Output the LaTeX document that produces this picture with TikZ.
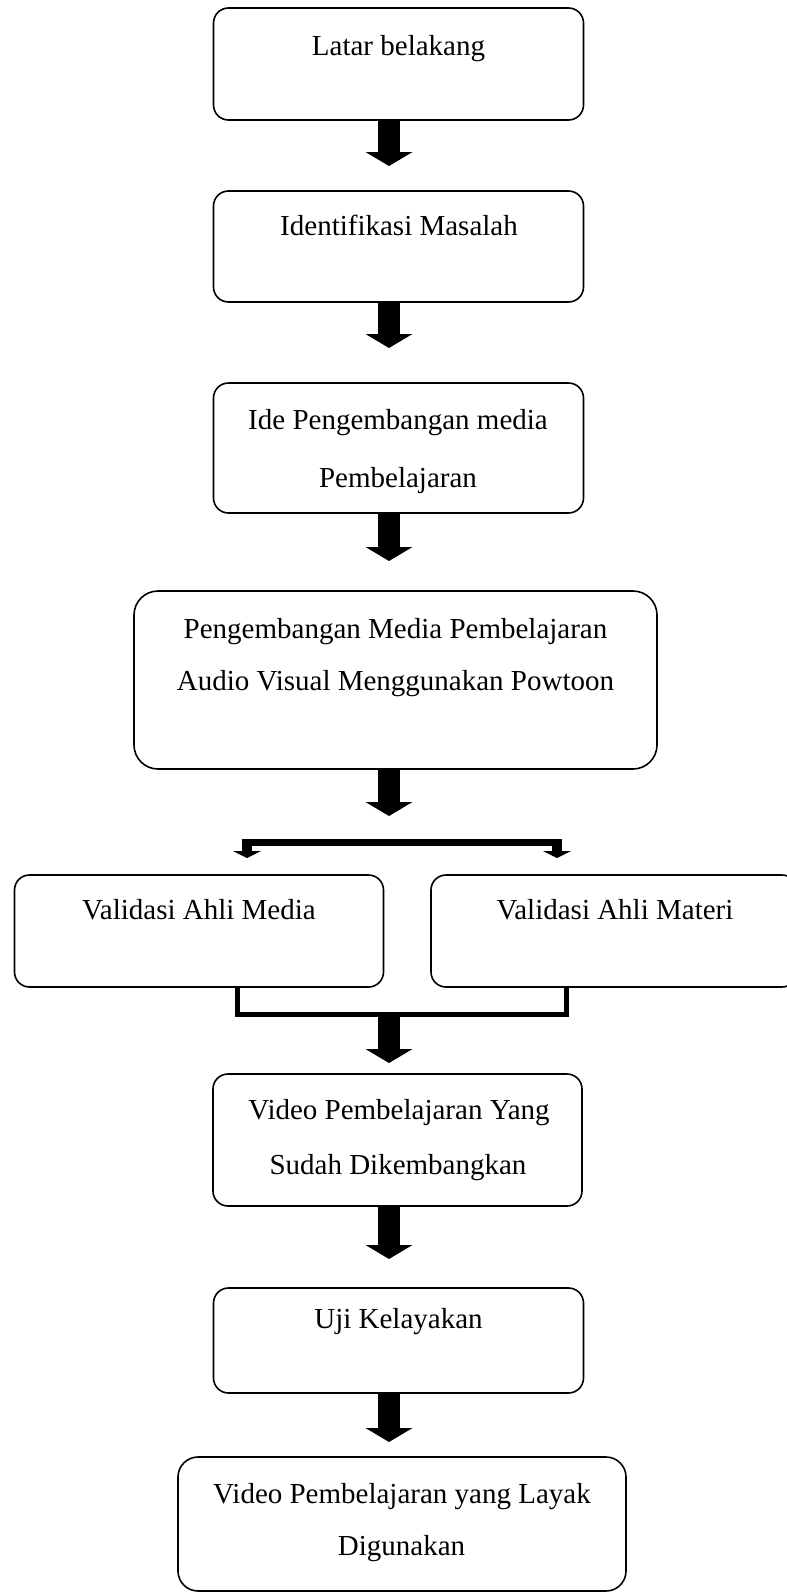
\documentclass[tikz,border=0pt]{standalone}
\usepackage{fontspec}
\setmainfont{Liberation Serif}
\usetikzlibrary{arrows.meta}
\begin{document}
\begin{tikzpicture}[x=1pt,y=-1pt,
  box/.style={draw, line width=1.6pt, rounded corners=15pt, inner sep=0pt, outer sep=0pt},
  txt/.style={anchor=base, inner sep=0pt, font=\fontsize{29}{57}\selectfont},
  bigarrow/.style={line width=22pt, -{Triangle[width=47pt,length=14pt,line width=0pt]}},
  smallarrow/.style={line width=10pt, -{Triangle[width=28pt,length=7pt,line width=0pt]}},
  barline/.style={line width=7pt},
  bracketline/.style={line width=5pt, line join=miter}]
\useasboundingbox (0,0) rectangle (787,1593);
\clip (0,0) rectangle (787,1593);
% boxes
\node[box, minimum width=370pt, minimum height=112pt] (b1) at (398.5,64) {};
\node[box, minimum width=370pt, minimum height=111pt] (b2) at (398.5,246.5) {};
\node[box, minimum width=370pt, minimum height=130pt] (b3) at (398.5,448) {};
\node[box, rounded corners=24pt, minimum width=523pt, minimum height=178pt] (b4) at (395.5,680) {};
\node[box, minimum width=369pt, minimum height=112pt] (bl) at (199,931) {};
\node[box, minimum width=366pt, minimum height=112pt] (br) at (614,931) {};
\node[box, minimum width=369pt, minimum height=132pt] (b5) at (397.5,1140) {};
\node[box, minimum width=370pt, minimum height=105pt] (b6) at (398.5,1340.5) {};
\node[box, rounded corners=20pt, minimum width=448pt, minimum height=134pt] (b7) at (402,1524) {};
% texts
\node[txt] (l1) at (398.5,55) {Latar belakang};
\node[txt] (l2) at (399,235) {Identifikasi Masalah};
\node[txt] (l3a) at (398,429) {Ide Pengembangan media};
\node[txt] (l3b) at (398,487) {Pembelajaran};
\node[txt] (l4a) at (395.5,638) {Pengembangan Media Pembelajaran};
\node[txt] (l4b) at (395.5,690) {Audio Visual Menggunakan Powtoon};
\node[txt] (ll) at (199,919) {Validasi Ahli Media};
\node[txt] (lr) at (615,919) {Validasi Ahli Materi};
\node[txt] (l5a) at (399,1119) {Video Pembelajaran Yang};
\node[txt] (l5b) at (398,1174) {Sudah Dikembangkan};
\node[txt] (l6) at (398.5,1328) {Uji Kelayakan};
\node[txt] (l7a) at (402,1503) {Video Pembelajaran yang Layak};
\node[txt] (l7b) at (401.5,1555) {Digunakan};
% arrows
\coordinate (t1) at (389,166);
\coordinate (t2) at (389,348);
\coordinate (t3) at (389,561);
\coordinate (t4) at (389,816);
\coordinate (t5) at (389,1063);
\coordinate (t6) at (389,1259);
\coordinate (t7) at (389,1442);
\draw[bigarrow] (b1.south -| t1) -- (t1);
\draw[bigarrow] (b2.south -| t2) -- (t2);
\draw[bigarrow] (b3.south -| t3) -- (t3);
\draw[bigarrow] (b4.south -| t4) -- (t4);
\draw[bigarrow] (b5.south -| t6) -- (t6);
\draw[bigarrow] (b6.south -| t7) -- (t7);
% branch
\coordinate (bl0) at (242,842);
\coordinate (br0) at (562,842);
\coordinate (sl) at (247,858);
\coordinate (sr) at (557,858);
\draw[barline] (bl0) -- (br0);
\draw[smallarrow] (sl |- bl0) -- (sl);
\draw[smallarrow] (sr |- bl0) -- (sr);
% join
\coordinate (jl) at (237.5,1014);
\coordinate (jr) at (566.5,1014);
\draw[bracketline] (bl.south -| jl) -- (jl) -- (jr) -- (br.south -| jr);
\draw[bigarrow] (jl -| t5) -- (t5);
\end{tikzpicture}
\end{document}
